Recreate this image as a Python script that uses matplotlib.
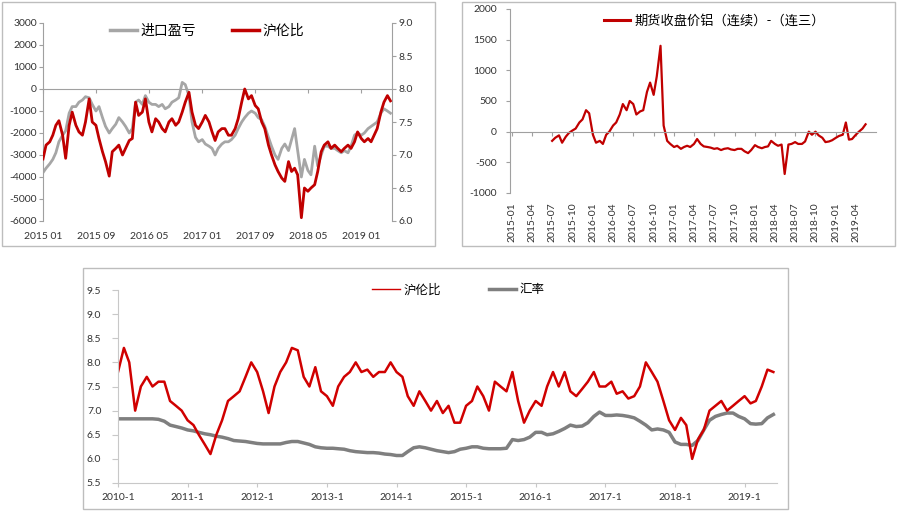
import matplotlib
matplotlib.use('Agg')
import pandas as pd
import matplotlib.pyplot as plt
from matplotlib.lines import Line2D
from matplotlib.patches import Rectangle

plt.rcParams['font.family'] = ['Lato', 'Noto Sans CJK SC']
plt.rcParams['axes.unicode_minus'] = False

RED = '#c00000'
GRAY1 = '#a6a6a6'
GRAY3 = '#7f7f7f'
SPINE = '#a0a0a0'
TXT = '#333333'

# ---------- panel 1: import profit vs SHFE/LME ratio (half-month) ----------
p1_dates = pd.date_range('2015-01-01', periods=106, freq='SMS')
p1_import = [-3800, -3600, -3400, -3200, -2900, -2400, -2100, -1900, -1100, -800,
             -800, -600, -500, -350, -400, -700, -1000, -800, -1300, -1700,
             -2000, -1800, -1600, -1300, -1500, -1700, -2000, -1800, -600, -500,
             -700, -300, -600, -700, -700, -800, -700, -900, -800, -600,
             -500, -400, 300, 200, -300, -1500, -2200, -2400, -2300, -2500,
             -2600, -2700, -3000, -2700, -2500, -2400, -2400, -2300, -2100, -1800,
             -1500, -1300, -1100, -1000, -1100, -1300, -1400, -1700, -2200, -2600,
             -3000, -3200, -2700, -2500, -2800, -2300, -1800, -2800, -4000, -3200,
             -3700, -3900, -2600, -3500, -3000, -2600, -2600, -2700, -2700, -2800,
             -2900, -2800, -2900, -2600, -2100, -2000, -2100, -2000, -1800, -1700,
             -1600, -1500, -1100, -900, -1000, -1100]
p1_ratio = [6.94, 7.15, 7.2, 7.3, 7.45, 7.52, 7.3, 6.95, 7.45, 7.65,
            7.45, 7.35, 7.3, 7.5, 7.85, 7.5, 7.45, 7.25, 7.05, 6.9,
            6.68, 7.05, 7.1, 7.15, 7.0, 7.1, 7.22, 7.25, 7.8, 7.6,
            7.65, 7.85, 7.5, 7.35, 7.55, 7.5, 7.4, 7.35, 7.5, 7.55,
            7.45, 7.5, 7.65, 7.8, 7.95, 7.65, 7.45, 7.4, 7.5, 7.6,
            7.5, 7.35, 7.22, 7.35, 7.4, 7.4, 7.3, 7.3, 7.4, 7.55,
            7.8, 8.0, 7.85, 7.9, 7.75, 7.7, 7.5, 7.4, 7.15, 7.0,
            6.85, 6.75, 6.65, 6.6, 6.9, 6.75, 6.8, 6.7, 6.05, 6.5,
            6.45, 6.5, 6.55, 6.75, 7.05, 7.15, 7.2, 7.1, 7.15, 7.1,
            7.05, 7.1, 7.15, 7.1, 7.2, 7.35, 7.25, 7.2, 7.25, 7.2,
            7.3, 7.4, 7.65, 7.8, 7.9, 7.82]
p1_tick_dates = ['2015-01-01', '2015-09-01', '2016-05-01', '2017-01-01',
                 '2017-09-01', '2018-05-01', '2019-01-01']
p1_tick_labels = ['2015 01', '2015 09', '2016 05', '2017 01', '2017 09', '2018 05', '2019 01']

# ---------- panel 2: spread continuous - third month (half-month) ----------
p2_dates = pd.date_range('2015-07-01', periods=94, freq='SMS')
p2_spread = [-150, -100, -60, -180, -80, -20, 20, 50, 150, 200,
             350, 300, -50, -180, -150, -200, -50, 0, 100, 150,
             280, 450, 350, 500, 450, 280, 330, 350, 650, 800,
             600, 900, 1400, 100, -150, -200, -250, -230, -280, -250,
             -230, -250, -200, -120, -200, -240, -250, -260, -280, -270,
             -300, -280, -270, -290, -300, -280, -280, -320, -350, -300,
             -220, -250, -270, -250, -240, -150, -200, -230, -210, -690,
             -210, -200, -170, -200, -200, -160, 0, -50, 0, -60,
             -100, -170, -160, -140, -100, -70, -50, 150, -130, -120,
             -50, 0, 50, 120]
p2_tick_dates = pd.date_range('2015-01-01', periods=18, freq='QS')
p2_tick_labels = [d.strftime('%Y-%m') for d in p2_tick_dates]

# ---------- panel 3: SHFE/LME ratio vs exchange rate (monthly) ----------
p3_dates = pd.date_range('2010-01-01', periods=114, freq='MS')
p3_ratio = [7.8, 8.3, 8.0, 7.0, 7.5, 7.7, 7.5, 7.6, 7.6, 7.2,
            7.1, 7.0, 6.8, 6.7, 6.5, 6.3, 6.1, 6.5, 6.8, 7.2,
            7.3, 7.4, 7.7, 8.0, 7.8, 7.4, 6.95, 7.5, 7.8, 8.0,
            8.3, 8.25, 7.7, 7.5, 7.9, 7.4, 7.3, 7.1, 7.5, 7.7,
            7.8, 8.0, 7.8, 7.85, 7.7, 7.8, 7.8, 8.0, 7.8, 7.7,
            7.3, 7.1, 7.4, 7.2, 7.0, 7.2, 6.95, 7.1, 6.75, 6.75,
            7.1, 7.2, 7.5, 7.3, 7.0, 7.6, 7.5, 7.4, 7.8, 7.2,
            6.75, 7.0, 7.2, 7.1, 7.5, 7.8, 7.5, 7.8, 7.4, 7.3,
            7.45, 7.6, 7.8, 7.5, 7.5, 7.6, 7.35, 7.4, 7.25, 7.3,
            7.5, 8.0, 7.8, 7.6, 7.2, 6.8, 6.6, 6.85, 6.7, 6.0,
            6.4, 6.6, 7.0, 7.1, 7.2, 7.0, 7.1, 7.2, 7.3, 7.15,
            7.2, 7.5, 7.85, 7.8]
p3_fx = [6.83, 6.83, 6.83, 6.83, 6.83, 6.83, 6.83, 6.82, 6.78, 6.7,
         6.67, 6.64, 6.6, 6.58, 6.55, 6.52, 6.5, 6.47, 6.45, 6.42,
         6.38, 6.37, 6.36, 6.34, 6.32, 6.31, 6.31, 6.31, 6.31, 6.34,
         6.36, 6.36, 6.33, 6.3, 6.25, 6.23, 6.22, 6.22, 6.21, 6.2,
         6.17, 6.15, 6.14, 6.13, 6.13, 6.12, 6.1, 6.09, 6.07, 6.07,
         6.15, 6.23, 6.25, 6.23, 6.2, 6.17, 6.15, 6.13, 6.15, 6.2,
         6.22, 6.25, 6.25, 6.22, 6.21, 6.21, 6.21, 6.22, 6.4, 6.38,
         6.4, 6.45, 6.55, 6.55, 6.5, 6.52, 6.57, 6.63, 6.7, 6.67,
         6.68, 6.75, 6.88, 6.97, 6.9, 6.9, 6.91, 6.9, 6.88, 6.85,
         6.78, 6.7, 6.6, 6.62, 6.6, 6.55, 6.35, 6.3, 6.3, 6.28,
         6.38, 6.6, 6.8, 6.88, 6.92, 6.95, 6.95, 6.88, 6.83, 6.73,
         6.72, 6.73, 6.85, 6.92]
p3_tick_dates = pd.date_range('2010-01-01', periods=10, freq='YS')
p3_tick_labels = ['%d-1' % d.year for d in p3_tick_dates]

W, H = 900, 513
fig = plt.figure(figsize=(9, 5.13), dpi=100)


def box(x0, y0, x1, y1):
    # pixel coords, origin top-left
    return [x0 / W, 1 - y1 / H, (x1 - x0) / W, (y1 - y0) / H]


# panel frames
for (x0, y0, x1, y1) in [(2, 2, 435, 246), (462, 2, 895, 246), (83, 268, 788, 509)]:
    b = box(x0, y0, x1, y1)
    fig.add_artist(Rectangle((b[0], b[1]), b[2], b[3], transform=fig.transFigure,
                             fill=False, ec='#bdbdbd', lw=1.0))

# ---------------- panel 1 ----------------
ax1 = fig.add_axes(box(43, 23, 392, 221))
ax1.plot(p1_dates, p1_import, color=GRAY1, lw=2.0)
ax1.set_ylim(-6000, 3000)
ax1.set_yticks(range(-6000, 3001, 1000))
ax1.set_xlim(pd.Timestamp('2015-01-01'), pd.Timestamp('2019-05-22'))
ax1.set_xticks(pd.to_datetime(p1_tick_dates))
ax1.set_xticklabels(p1_tick_labels)
ax1.spines['top'].set_visible(False)
ax1.spines['right'].set_visible(False)
ax1.spines['bottom'].set_position(('data', 0))
for s in ('left', 'bottom'):
    ax1.spines[s].set_color(SPINE)
ax1.tick_params(axis='x', direction='out', length=3, color=SPINE, pad=100,
                labelsize=7.5, labelcolor=TXT)
ax1.tick_params(axis='y', direction='out', length=3, color=SPINE, pad=1.5,
                labelsize=7.5, labelcolor=TXT)

ax1b = ax1.twinx()
ax1b.plot(p1_dates, p1_ratio, color=RED, lw=2.0)
ax1b.set_ylim(6.0, 9.0)
ax1b.set_yticks([6.0, 6.5, 7.0, 7.5, 8.0, 8.5, 9.0])
ax1b.set_yticklabels(['%.1f' % v for v in [6.0, 6.5, 7.0, 7.5, 8.0, 8.5, 9.0]])
for s in ('top', 'bottom', 'left'):
    ax1b.spines[s].set_visible(False)
ax1b.spines['right'].set_color(SPINE)
ax1b.tick_params(axis='y', direction='out', length=3, color=SPINE, pad=1.5,
                 labelsize=7.5, labelcolor=TXT)
h1 = [Line2D([], [], color=GRAY1, lw=2.5), Line2D([], [], color=RED, lw=2.5)]
ax1b.legend(h1, ['进口盈亏', '沪伦比'], loc='center', bbox_to_anchor=(0.471, 0.965),
            ncol=2, frameon=False, fontsize=10, handlelength=1.9,
            handletextpad=0.3, columnspacing=2.6)

# ---------------- panel 2 ----------------
ax2 = fig.add_axes(box(510, 9, 876, 193))
ax2.plot(p2_dates, p2_spread, color=RED, lw=1.6)
ax2.set_ylim(-1000, 2000)
ax2.set_yticks(range(-1000, 2001, 500))
ax2.set_xlim(pd.Timestamp('2014-12-23'), pd.Timestamp('2019-07-01'))
ax2.set_xticks(p2_tick_dates)
ax2.set_xticklabels(p2_tick_labels)
ax2.spines['top'].set_visible(False)
ax2.spines['right'].set_visible(False)
ax2.spines['bottom'].set_position(('data', 0))
for s in ('left', 'bottom'):
    ax2.spines[s].set_color(SPINE)
ax2.tick_params(axis='x', direction='out', length=3, color=SPINE, pad=48,
                labelsize=7.5, labelcolor=TXT, labelrotation=90)
ax2.tick_params(axis='y', direction='out', length=3, color=SPINE, pad=6.5,
                labelsize=7.5, labelcolor=TXT)
ax2.legend([Line2D([], [], color=RED, lw=2.2)], ['期货收盘价铝（连续）-（连三）'],
           loc='center', bbox_to_anchor=(0.558, 0.94), frameon=False,
           fontsize=9.5, handlelength=2.0, handletextpad=0.3)

# ---------------- panel 3 ----------------
ax3 = fig.add_axes(box(118, 290, 777, 483))
ax3.plot(p3_dates, p3_fx, color=GRAY3, lw=2.5)
ax3.plot(p3_dates, p3_ratio, color='#d00000', lw=1.8)
ax3.set_ylim(5.5, 9.5)
ax3.set_yticks([5.5, 6.0, 6.5, 7.0, 7.5, 8.0, 8.5, 9.0, 9.5])
ax3.set_yticklabels(['%.1f' % v for v in [5.5, 6.0, 6.5, 7.0, 7.5, 8.0, 8.5, 9.0, 9.5]])
ax3.set_xlim(pd.Timestamp('2010-01-01'), pd.Timestamp('2019-06-20'))
ax3.set_xticks(p3_tick_dates)
ax3.set_xticklabels(p3_tick_labels)
ax3.spines['top'].set_visible(False)
ax3.spines['right'].set_visible(False)
for s in ('left', 'bottom'):
    ax3.spines[s].set_color('#c8c8c8')
ax3.tick_params(axis='x', direction='out', length=3, color='#c8c8c8', pad=4.3,
                labelsize=7.5, labelcolor=TXT)
ax3.tick_params(axis='y', direction='out', length=4, color='#c8c8c8', pad=8,
                labelsize=7.5, labelcolor=TXT)
h3 = [Line2D([], [], color='#d00000', lw=1.0), Line2D([], [], color=GRAY3, lw=2.5)]
ax3.legend(h3, ['沪伦比', '汇率'], loc='center', bbox_to_anchor=(0.517, 1.005),
           ncol=2, frameon=False, fontsize=9, handlelength=2.2,
           handletextpad=0.3, columnspacing=3.8)

fig.savefig('out.png', dpi=100)
